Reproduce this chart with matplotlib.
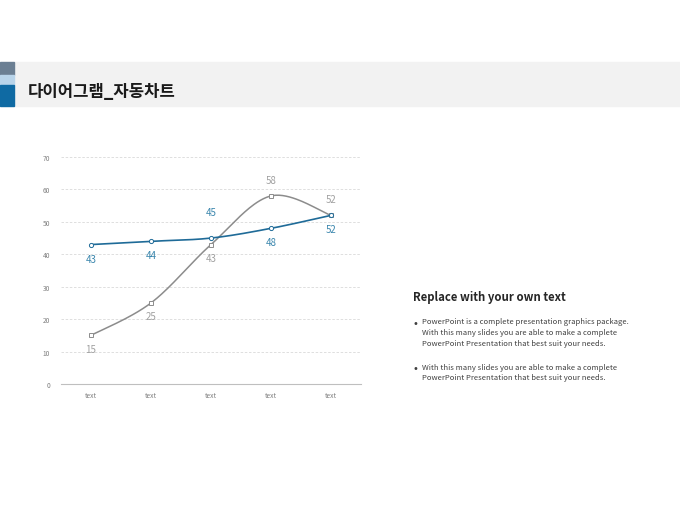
import numpy as np
import matplotlib.pyplot as plt
from matplotlib.patches import Rectangle

plt.rcParams['font.family'] = ['Noto Sans CJK KR', 'DejaVu Sans']

# data
categories = ['text', 'text', 'text', 'text', 'text']
series_blue = [43, 44, 45, 48, 52]
series_gray = [15, 25, 43, 58, 52]
blue_label_pos = ['below', 'below', 'above', 'below', 'below']
gray_label_pos = ['below', 'below', 'below', 'above', 'above']

title = '다이어그램_자동차트'
side_title = 'Replace with your own text'
bullets = [
    'PowerPoint is a complete presentation graphics package.\n'
    'With this many slides you are able to make a complete\n'
    'PowerPoint Presentation that best suit your needs.',
    'With this many slides you are able to make a complete\n'
    'PowerPoint Presentation that best suit your needs.',
]

BLUE = '#1f6b98'
BLUE_TXT = '#3a86ad'
GRAY = '#8c8c8c'
GRAY_TXT = '#a0a0a0'


def smooth(xs, ys, n=40):
    # catmull-rom, same look as the office "smoothed line"
    xs = np.asarray(xs, float)
    ys = np.asarray(ys, float)
    px = np.concatenate([[xs[0]], xs, [xs[-1]]])
    py = np.concatenate([[ys[0]], ys, [ys[-1]]])
    outx, outy = [], []
    t = np.linspace(0, 1, n)
    for i in range(1, len(px) - 2):
        p0, p1, p2, p3 = (np.array([px[j], py[j]]) for j in range(i - 1, i + 3))
        c1 = p1 + (p2 - p0) / 6
        c2 = p2 - (p3 - p1) / 6
        b = ((1 - t) ** 3)[:, None] * p1 + (3 * (1 - t) ** 2 * t)[:, None] * c1 \
            + (3 * (1 - t) * t ** 2)[:, None] * c2 + (t ** 3)[:, None] * p2
        outx.extend(b[:, 0])
        outy.extend(b[:, 1])
    return outx, outy


fig = plt.figure(figsize=(6.8, 5.1), dpi=100)

# header band
fig.patches.append(Rectangle((14 / 680, 1 - 107 / 510), 666 / 680, 44 / 510,
                             transform=fig.transFigure, color='#f2f2f2', zorder=0))
fig.patches.append(Rectangle((0, 1 - 76 / 510), 14 / 680, 13 / 510,
                             transform=fig.transFigure, color='#6b7f93', zorder=0))
fig.patches.append(Rectangle((0, 1 - 86 / 510), 14 / 680, 10 / 510,
                             transform=fig.transFigure, color='#b8d4ea', zorder=0))
fig.patches.append(Rectangle((0, 1 - 107 / 510), 14 / 680, 21 / 510,
                             transform=fig.transFigure, color='#0f6aa3', zorder=0))
fig.text(28 / 680, 1 - 92 / 510, title, fontsize=12, fontweight='bold',
         color='#1a1a1a', va='center', ha='left')

ax = fig.add_axes([61 / 680, 1 - 385 / 510, 300 / 680, 227 / 510])
x = np.arange(len(categories))

bx, by = smooth(x, series_blue)
gx, gy = smooth(x, series_gray)
ax.plot(gx, gy, color=GRAY, lw=1.1, zorder=3)
ax.plot(x, series_gray, ls='none', marker='s', ms=3.0, mfc='white', mec=GRAY,
        mew=0.7, zorder=4)
ax.plot(bx, by, color=BLUE, lw=1.2, zorder=3)
ax.plot(x, series_blue, ls='none', marker='o', ms=3.0, mfc='white', mec=BLUE,
        mew=0.7, zorder=4)

px2pt = 72 / 100
for xi, v, pos in zip(x, series_blue, blue_label_pos):
    off = -14 if pos == 'below' else 26
    ax.annotate(str(v), (xi, v), xytext=(0, off * px2pt), textcoords='offset points',
                ha='center', va='center', fontsize=7, color=BLUE_TXT)
for xi, v, pos in zip(x, series_gray, gray_label_pos):
    off = -13.5 if pos == 'below' else 16
    ax.annotate(str(v), (xi, v), xytext=(0, off * px2pt), textcoords='offset points',
                ha='center', va='center', fontsize=7, color=GRAY_TXT)

ax.set_xlim(-0.5, len(categories) - 0.5)
ax.set_ylim(0, 70)
ax.set_yticks(range(0, 71, 10))
ax.set_xticks(x)
ax.set_xticklabels(categories)
ax.tick_params(axis='both', length=0, labelsize=4.8, labelcolor='#7f7f7f')
ax.tick_params(axis='y', pad=8)
ax.tick_params(axis='x', pad=5)
for yv in range(10, 71, 10):
    ax.axhline(yv, color='#d9d9d9', lw=0.6, ls=(0, (3, 2)), zorder=1)
for s in ['top', 'right', 'left']:
    ax.spines[s].set_visible(False)
ax.spines['bottom'].set_color('#bfbfbf')
ax.spines['bottom'].set_linewidth(0.8)
ax.patch.set_alpha(0)

# side text
fig.text(413 / 680, 1 - 298 / 510, side_title, fontsize=8.2, fontweight='bold',
         color='#262626', va='center', ha='left')
ys = [324, 369]
for yb, txt in zip(ys, bullets):
    fig.text(413 / 680, 1 - yb / 510, '•', fontsize=7, color='#404040',
             va='center', ha='left', family='DejaVu Sans')
    fig.text(422 / 680, 1 - (yb - 5.5) / 510, txt, fontsize=5.5, color='#404040',
             va='top', ha='left', linespacing=1.45)

fig.savefig('out.png', dpi=100)
